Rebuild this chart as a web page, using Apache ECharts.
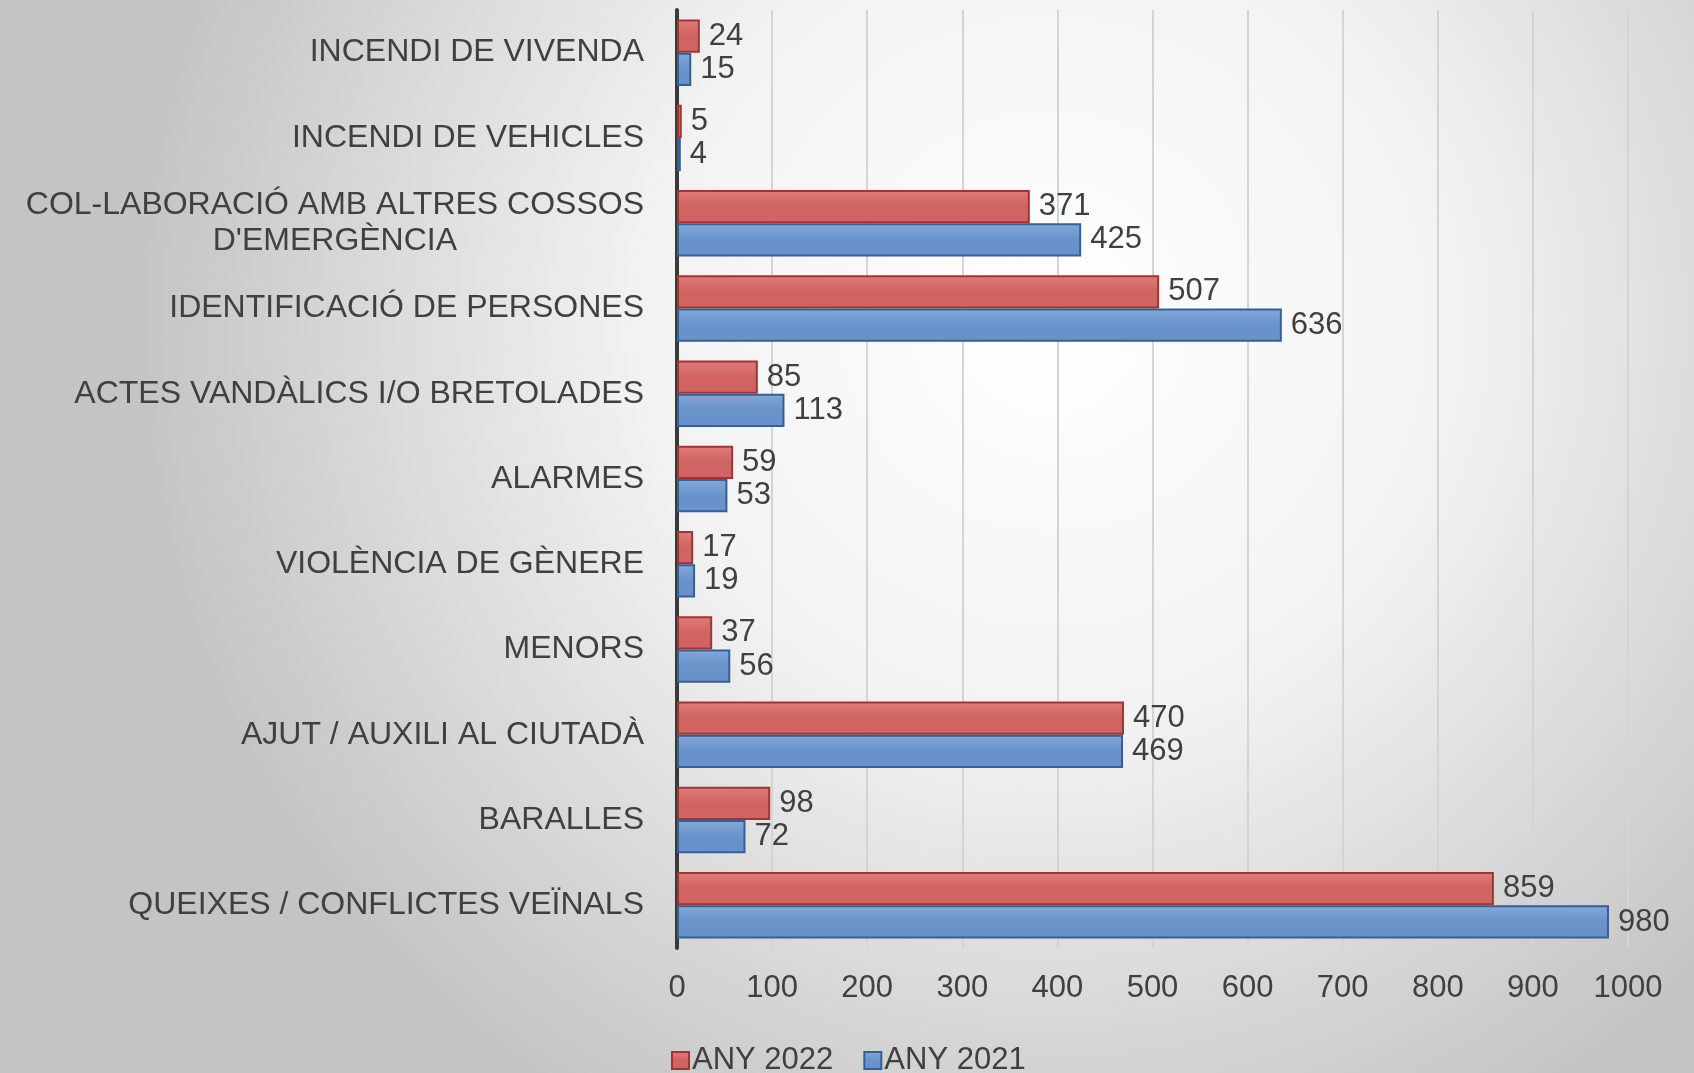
<!DOCTYPE html>
<html>
<head>
<meta charset="utf-8">
<script src="https://cdn.jsdelivr.net/npm/echarts@6/dist/echarts.min.js"></script>
<style>
  html, body { margin: 0; padding: 0; }
  #chart { width: 1694px; height: 1073px; }
</style>
</head>
<body>
<div id="chart"></div>
<script>
  const categories = [
    'INCENDI DE VIVENDA',
    'INCENDI DE VEHICLES',
    "COL-LABORACIÓ AMB ALTRES COSSOS\nD'EMERGÈNCIA",
    'IDENTIFICACIÓ DE PERSONES',
    'ACTES VANDÀLICS I/O BRETOLADES',
    'ALARMES',
    'VIOLÈNCIA DE GÈNERE',
    'MENORS',
    'AJUT / AUXILI AL CIUTADÀ',
    'BARALLES',
    'QUEIXES / CONFLICTES VEÏNALS'
  ]
  const any2022 = [24, 5, 371, 507, 85, 59, 17, 37, 470, 98, 859]
  const any2021 = [15, 4, 425, 636, 113, 53, 19, 56, 469, 72, 980]

  const chart = echarts.init(document.getElementById('chart'))

  function barStyle(light, mid, dark) {
    return {
      color: {
        type: 'linear', x: 0, y: 0, x2: 0, y2: 1,
        colorStops: [
          { offset: 0, color: light },
          { offset: 0.5, color: mid },
          { offset: 1, color: mid }
        ]
      },
      borderColor: dark,
      borderWidth: 2
    }
  }

  const labelStyle = {
    show: true,
    position: 'right',
    distance: 9,
    fontFamily: 'Liberation Sans',
    fontSize: 31,
    color: '#404040'
  }

  chart.setOption({
    backgroundColor: {
      type: 'radial', x: 0.62, y: 0.3, r: 0.85,
      colorStops: [
        { offset: 0, color: '#ffffff' },
        { offset: 0.45, color: '#f2f2f2' },
        { offset: 1, color: '#c4c4c4' }
      ]
    },
    textStyle: { fontFamily: 'Liberation Sans' },
    legend: {
      left: 666,
      top: 1040,
      icon: 'rect',
      itemWidth: 17,
      itemHeight: 17,
      itemGap: 30,
      textStyle: { fontSize: 31, color: '#404040', padding: [0, 0, 0, -2] },
      data: ['ANY 2022', 'ANY 2021']
    },
    grid: { left: 677, right: 66, top: 10, bottom: 125 },
    xAxis: {
      type: 'value',
      min: 0,
      max: 1000,
      interval: 100,
      axisLine: { show: false },
      axisTick: { show: false },
      splitLine: { lineStyle: { color: '#d4d4d4', width: 2 } },
      axisLabel: {
        fontSize: 31, color: '#404040', margin: 25,
        formatter: function (v) { return String(v) }
      }
    },
    yAxis: {
      type: 'category',
      inverse: true,
      offset: 7,
      data: categories,
      axisLine: { lineStyle: { color: '#3a3a3a', width: 4 } },
      axisTick: { show: false },
      axisLabel: {
        fontSize: 32,
        color: '#404040',
        margin: 26,
        lineHeight: 36,
        formatter: function (v) {
          return v.split('\n').map(function (s) { return '{c|' + s + '}' }).join('\n')
        },
        rich: { c: { fontSize: 32, color: '#404040', align: 'center', lineHeight: 36 } }
      }
    },
    series: [
      {
        name: 'ANY 2022',
        type: 'bar',
        data: any2022,
        barGap: '0%',
        barCategoryGap: '22%',
        itemStyle: barStyle('#e07c7a', '#cf6462', '#a33431'),
        label: labelStyle
      },
      {
        name: 'ANY 2021',
        type: 'bar',
        data: any2021,
        itemStyle: barStyle('#85a9da', '#6892c9', '#355f97'),
        label: labelStyle
      }
    ]
  })
</script>
</body>
</html>
